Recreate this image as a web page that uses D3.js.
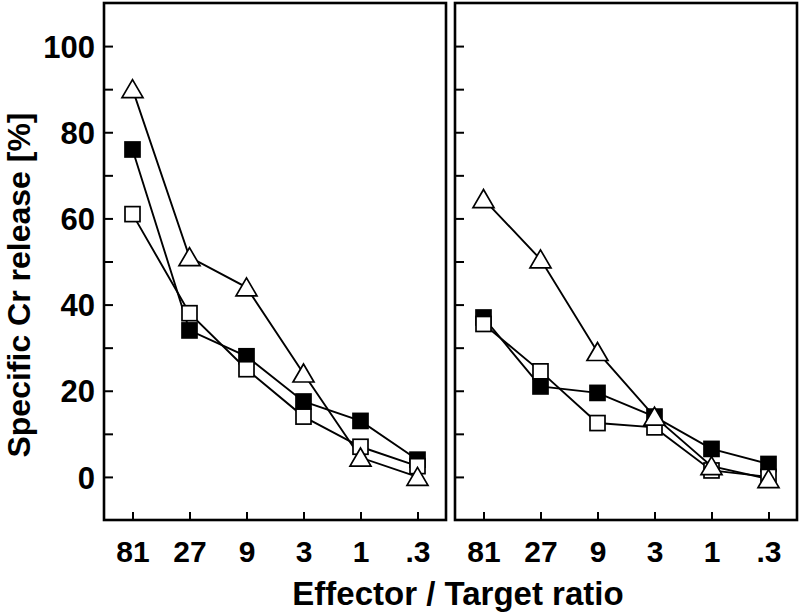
<!DOCTYPE html>
<html>
<head>
<meta charset="utf-8">
<script src="https://cdn.jsdelivr.net/npm/d3@7"></script>
<style>
  html, body { margin: 0; padding: 0; background: #fff; }
  svg { display: block; }
  text { font-family: "Liberation Sans", Arial, Helvetica, sans-serif; font-weight: bold; fill: #000; }
</style>
</head>
<body>
<svg id="chart" width="800" height="616"></svg>
<script>
// ---- data ----
const categories = ["81", "27", "9", "3", "1", ".3"];
const yTicks = [0, 10, 20, 30, 40, 50, 60, 70, 80, 90, 100];
const yLabels = [0, 20, 40, 60, 80, 100];

const leftFilled   = [76, 34, 28, 17.5, 13, 4];
const leftOpen     = [61, 38, 25, 14, 7, 2.5];
const leftTriangle = [90, 51, 44, 24, 4.5, 0];

const rightFilled   = [37, 21, 19.5, 14, 6.5, 3];
const rightOpen     = [35.5, 24.5, 12.5, 11.5, 1.5, 0];
const rightTriangle = [64.5, 50.5, 29, 14, 2.5, -0.5];

const xTitle = "Effector / Target ratio";
const yTitle = "Specific Cr release [%]";

// ---- layout ----
const svg = d3.select("#chart");
const plotTop = 3, plotBottom = 520;
const panels = [
  { x0: 104, x1: 446, labels: true,  series: [
      { kind: "filled",   values: leftFilled },
      { kind: "open",     values: leftOpen },
      { kind: "triangle", values: leftTriangle } ] },
  { x0: 455, x1: 797, labels: false, series: [
      { kind: "filled",   values: rightFilled },
      { kind: "open",     values: rightOpen },
      { kind: "triangle", values: rightTriangle } ] }
];

const y = d3.scaleLinear().domain([-10, 110]).range([plotBottom, plotTop]);

const triPath = "M0,-9.5L10.5,8.5L-10.5,8.5Z";

panels.forEach(p => {
  const x = d3.scalePoint().domain(categories).range([p.x0, p.x1]).padding(0.5);
  const g = svg.append("g");

  // y axis (ticks inward)
  const yAxis = d3.axisLeft(y).tickValues(yTicks).tickSize(-9).tickPadding(9)
    .tickFormat(d => (p.labels && yLabels.includes(d)) ? d3.format("d")(d) : "");
  const ya = g.append("g").attr("transform", `translate(${p.x0},0)`).call(yAxis);
  ya.select(".domain").remove();
  ya.selectAll(".tick line").attr("stroke", "#000").attr("stroke-width", 2);
  ya.selectAll(".tick text").style("font-size", "31px").attr("dy", "0.36em");

  // x axis (ticks inward)
  const xAxis = d3.axisBottom(x).tickSize(-8).tickPadding(21);
  const xa = g.append("g").attr("transform", `translate(0,${plotBottom})`).call(xAxis);
  xa.select(".domain").remove();
  xa.selectAll(".tick line").attr("stroke", "#000").attr("stroke-width", 2);
  xa.selectAll(".tick text").style("font-size", "30px");

  // lines
  const line = d3.line().x((d, i) => x(categories[i])).y(d => y(d));
  p.series.forEach(s => {
    g.append("path").attr("d", line(s.values))
      .attr("fill", "none").attr("stroke", "#000").attr("stroke-width", 1.9);
  });

  // markers
  p.series.forEach(s => {
    const mg = g.append("g");
    s.values.forEach((v, i) => {
      const cx = x(categories[i]), cy = y(v);
      if (s.kind === "triangle") {
        mg.append("path").attr("d", triPath)
          .attr("transform", `translate(${cx},${cy})`)
          .attr("fill", "#fff").attr("stroke", "#000").attr("stroke-width", 1.7)
          .attr("stroke-linejoin", "miter");
      } else {
        mg.append("rect").attr("x", cx - 7.5).attr("y", cy - 7.5)
          .attr("width", 15).attr("height", 15)
          .attr("fill", s.kind === "filled" ? "#000" : "#fff")
          .attr("stroke", "#000").attr("stroke-width", 1.7);
      }
    });
  });

  // frame
  g.append("rect").attr("x", p.x0).attr("y", plotTop)
    .attr("width", p.x1 - p.x0).attr("height", plotBottom - plotTop)
    .attr("fill", "none").attr("stroke", "#000").attr("stroke-width", 2.6);
});

// titles
svg.append("text").attr("x", 458).attr("y", 605)
  .attr("text-anchor", "middle").style("font-size", "33px").text(xTitle);

svg.append("text").attr("transform", "translate(30,285) rotate(-90)")
  .attr("text-anchor", "middle").style("font-size", "32px").text(yTitle);
</script>
</body>
</html>
